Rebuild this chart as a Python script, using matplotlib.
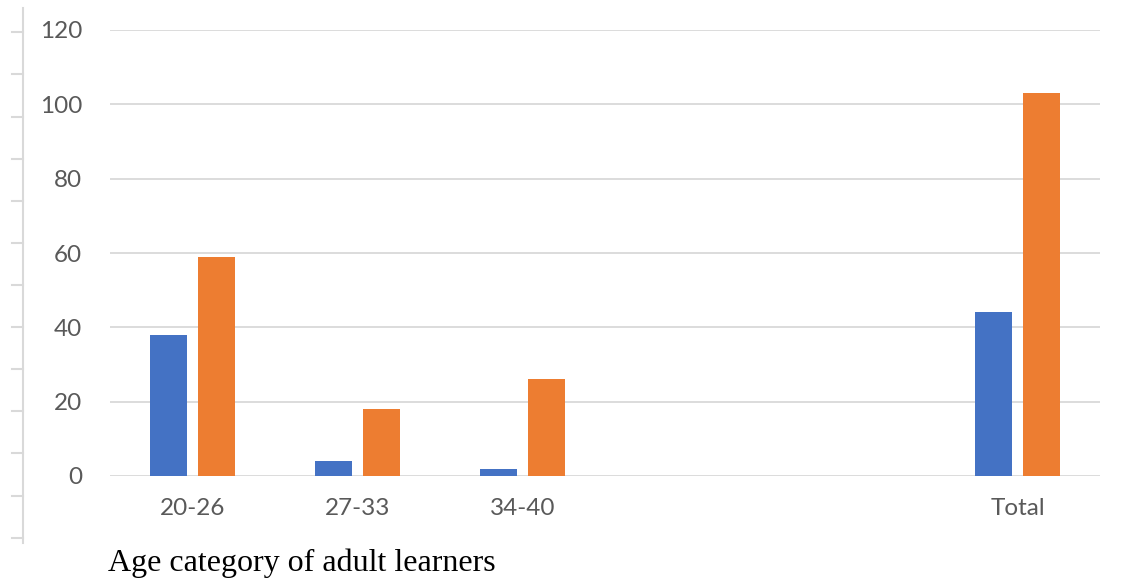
import numpy as np
import matplotlib.pyplot as plt
from matplotlib.lines import Line2D

categories = ['20-26', '27-33', '34-40', '', '', 'Total']
series_blue = [38, 4, 2, np.nan, np.nan, 44]
series_orange = [59, 18, 26, np.nan, np.nan, 103]
y_ticks = [0, 20, 40, 60, 80, 100, 120]
x_title = 'Age category of adult learners'

W, H = 1125, 579
fig = plt.figure(figsize=(W / 100, H / 100), dpi=100)
ax = fig.add_axes([110 / W, (H - 476) / H, 990 / W, 446 / H])

x = np.arange(len(categories))
bw = 0.22
gap = 0.07
ax.bar(x - (bw + gap) / 2, series_blue, width=bw, color='#4472C4', zorder=3)
ax.bar(x + (bw + gap) / 2, series_orange, width=bw, color='#ED7D31', zorder=3)

ax.set_xlim(-0.5, len(categories) - 0.5)
ax.set_ylim(0, 120)
ax.set_yticks(y_ticks)
ax.set_xticks(x)
ax.set_xticklabels(categories)
ax.yaxis.grid(True, color='#D9D9D9', linewidth=1.3, zorder=0)
for s in ax.spines.values():
    s.set_visible(False)
ax.tick_params(length=0, labelsize=17.5, labelcolor='#595959')
ax.tick_params(axis='y', pad=20)
ax.tick_params(axis='x', pad=16)
for lab in ax.get_xticklabels() + ax.get_yticklabels():
    lab.set_fontfamily('Lato')

# axis line with tick marks on the far left
lx = 22.7 / W
fig.add_artist(Line2D([lx, lx], [1 - 8 / H, 1 - 543 / H], color='#D9D9D9', linewidth=1.5))
for ty in np.linspace(32.3, 537.7, 13):
    fig.add_artist(Line2D([12 / W, lx], [1 - ty / H, 1 - ty / H], color='#D9D9D9', linewidth=1.5))

fig.text(108 / W, 1 - 563 / H, x_title, fontfamily='Liberation Serif', fontsize=23,
         color='black', va='center', ha='left')

fig.savefig('out.png', dpi=100, facecolor='white')
